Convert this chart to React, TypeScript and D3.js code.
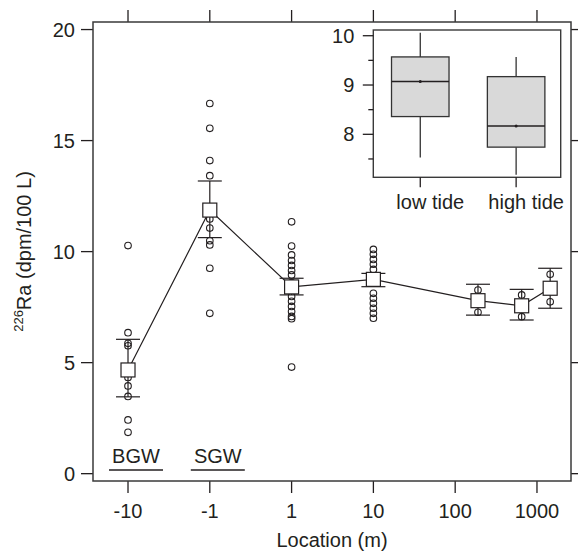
import * as d3 from 'd3';

// sampling locations (m), negative = inland wells
const locations = [-10, -1, 1, 10, 190, 650, 1450];
const means = [4.67, 11.87, 8.41, 8.75, 7.79, 7.56, 8.35];
const upper = [6.05, 13.18, 8.8, 9.02, 8.53, 8.3, 9.25];
const lower = [3.46, 10.63, 8.05, 8.42, 7.14, 6.92, 7.45];

// individual samples per location
const samples = [
  [10.27, 6.35, 5.87, 5.76, 4.6, 4.33, 3.95, 3.48, 2.42, 1.86],
  [16.67, 15.55, 14.1, 13.42, 11.9, 11.47, 11.06, 10.49, 10.3, 9.25, 7.22],
  [11.34, 10.25, 9.85, 9.6, 9.38, 9.15, 8.95, 8.6, 8.3, 7.98, 7.76, 7.53, 7.3, 7.08, 6.98, 4.8],
  [10.1, 9.88, 9.65, 9.43, 9.2, 8.8, 8.12, 7.9, 7.67, 7.45, 7.22, 7.0],
  [8.27, 7.27],
  [8.05, 7.07],
  [8.98, 7.74],
];

const xTicks = [-10, -1, 1, 10, 100, 1000];
const xTickLabels = ['-10', '-1', '1', '10', '100', '1000'];
const yTicks = [0, 5, 10, 15, 20];
const groupLabels = ['BGW', 'SGW'];
const groupAt = [-10, -1];

// inset boxplot
const tides = ['low tide', 'high tide'];
const tideMin = [7.53, 7.18];
const tideQ1 = [8.36, 7.74];
const tideMed = [9.07, 8.17];
const tideQ3 = [9.57, 9.17];
const tideMax = [10.06, 9.57];
const insetMajor = [8, 9, 10];
const insetMinor = [7.5, 8.5, 9.5];

const FONT = '"Liberation Sans", Arial, Helvetica, sans-serif';
const INK = '#231f20';

const pos = (v: number) => (v < 0 ? 1 - Math.log10(-v) : 2 + Math.log10(v));

export default function App() {
  const W = 578, H = 552;
  const m = { left: 93, right: 571, top: 22, bottom: 481 };

  const x = d3.scaleLinear().domain([-0.428, 5.416]).range([m.left, m.right]);
  const y = d3.scaleLinear().domain([-0.33, 20.34]).range([m.bottom, m.top]);
  const xl = (v: number) => x(pos(v));

  const line = d3.line<number>()
    .x((_, i) => xl(locations[i]))
    .y(d => y(d));

  // inset scales
  const inset = { left: 373.3, right: 560.7, top: 30, bottom: 177.3 };
  const ix = d3.scaleLinear().domain([0.51, 2.465]).range([inset.left, inset.right]);
  const iy = d3.scaleLinear().domain([7.128, 10.116]).range([inset.bottom, inset.top]);
  const halfBox = ix(1.3) - ix(1);

  const tick = 12;
  const cap = 12;

  return (
    <svg width={W} height={H} style={{ position: 'absolute', left: 0, top: 0, background: '#fff' }}
      fontFamily={FONT} fill={INK}>
      {/* ticks all sides */}
      {xTicks.map(t => (
        <g key={'xt' + t} stroke={INK} strokeWidth={1.3}>
          <line x1={xl(t)} x2={xl(t)} y1={m.bottom} y2={m.bottom + tick} />
          <line x1={xl(t)} x2={xl(t)} y1={m.top} y2={m.top - tick} />
        </g>
      ))}
      {yTicks.map(t => (
        <g key={'yt' + t} stroke={INK} strokeWidth={1.3}>
          <line x1={m.left - tick} x2={m.left} y1={y(t)} y2={y(t)} />
          <line x1={m.right} x2={m.right + tick} y1={y(t)} y2={y(t)} />
        </g>
      ))}
      {xTicks.map((t, i) => (
        <text key={'xl' + t} x={xl(t)} y={518} fontSize={20} textAnchor="middle">{xTickLabels[i]}</text>
      ))}
      {yTicks.map(t => (
        <text key={'yl' + t} x={m.left - tick - 6} y={y(t)} fontSize={20} textAnchor="end" dominantBaseline="central">{t}</text>
      ))}
      <text x={(m.left + m.right) / 2} y={547} fontSize={20} textAnchor="middle">Location (m)</text>
      <text transform={`translate(31,${(m.top + m.bottom) / 2}) rotate(-90)`} textAnchor="middle" fontSize={20}>
        <tspan fontSize={13} dy={-8}>226</tspan>
        <tspan dy={8}>Ra (dpm/100 L)</tspan>
      </text>

      {/* group labels */}
      {groupLabels.map((g, i) => (
        <g key={g}>
          <text x={xl(groupAt[i]) + 8} y={463} fontSize={20} textAnchor="middle">{g}</text>
          <line x1={xl(groupAt[i]) - 19} x2={xl(groupAt[i]) + 35} y1={470} y2={470} stroke={INK} strokeWidth={1.4} />
        </g>
      ))}

      {/* samples */}
      {samples.map((s, i) => s.map((v, j) => (
        <circle key={`c${i}-${j}`} cx={xl(locations[i])} cy={y(v)} r={3.3} fill="none" stroke={INK} strokeWidth={1.1} />
      )))}

      {/* error bars */}
      {locations.map((l, i) => (
        <g key={'eb' + i} stroke={INK} strokeWidth={1.2}>
          <line x1={xl(l)} x2={xl(l)} y1={y(lower[i])} y2={y(upper[i])} />
          <line x1={xl(l) - cap} x2={xl(l) + cap} y1={y(upper[i])} y2={y(upper[i])} />
          <line x1={xl(l) - cap} x2={xl(l) + cap} y1={y(lower[i])} y2={y(lower[i])} />
        </g>
      ))}

      <path d={line(means) || ''} fill="none" stroke={INK} strokeWidth={1.2} />

      {means.map((v, i) => (
        <rect key={'sq' + i} x={xl(locations[i]) - 7} y={y(v) - 7} width={14} height={14}
          fill="#fff" stroke={INK} strokeWidth={1.2} />
      ))}

      {/* panel border */}
      <rect x={m.left} y={m.top} width={m.right - m.left} height={m.bottom - m.top} fill="none" stroke="#3a3a3a" strokeWidth={1.5} />

      {/* inset */}
      <rect x={inset.left} y={inset.top} width={inset.right - inset.left} height={inset.bottom - inset.top}
        fill="#fff" stroke="#3a3a3a" strokeWidth={1.4} />
      {insetMajor.map(t => (
        <g key={'im' + t}>
          <line x1={inset.left - 10.5} x2={inset.left} y1={iy(t)} y2={iy(t)} stroke={INK} strokeWidth={1.3} />
          <text x={inset.left - 19} y={iy(t)} fontSize={20} textAnchor="end" dominantBaseline="central">{t}</text>
        </g>
      ))}
      {insetMinor.map(t => (
        <line key={'in' + t} x1={inset.left - 5} x2={inset.left} y1={iy(t)} y2={iy(t)} stroke={INK} strokeWidth={1.3} />
      ))}
      {tides.map((t, i) => {
        const cx = ix(i + 1);
        return (
          <g key={t}>
            <line x1={cx} x2={cx} y1={inset.bottom} y2={inset.bottom + 10} stroke={INK} strokeWidth={1.3} />
            <text x={cx + 10} y={209} fontSize={20} textAnchor="middle">{t}</text>
            <line x1={cx} x2={cx} y1={iy(tideMax[i])} y2={iy(tideQ3[i])} stroke="#333" strokeWidth={1.3} />
            <line x1={cx} x2={cx} y1={iy(tideQ1[i])} y2={iy(tideMin[i])} stroke="#333" strokeWidth={1.3} />
            <rect x={cx - halfBox} y={iy(tideQ3[i])} width={halfBox * 2} height={iy(tideQ1[i]) - iy(tideQ3[i])}
              fill="#d9d9d9" stroke="#333" strokeWidth={1.3} />
            <line x1={cx - halfBox} x2={cx + halfBox} y1={iy(tideMed[i])} y2={iy(tideMed[i])} stroke={INK} strokeWidth={1.5} />
            <circle cx={cx} cy={iy(tideMed[i])} r={1.5} fill={INK} />
          </g>
        );
      })}
    </svg>
  );
}
